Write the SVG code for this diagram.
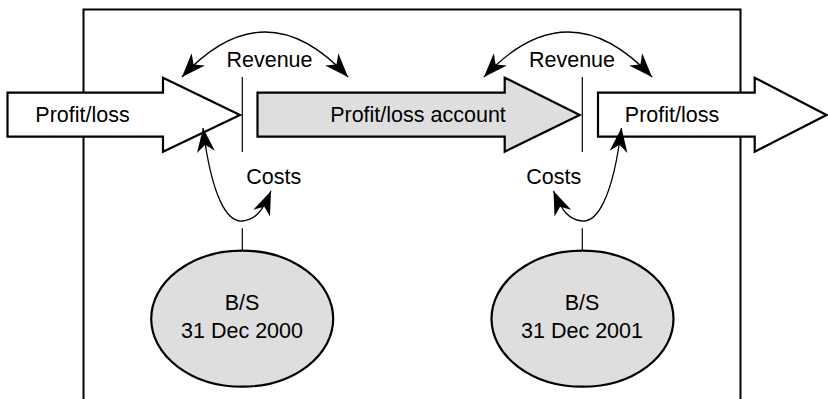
<svg xmlns="http://www.w3.org/2000/svg" width="828" height="399" viewBox="0 0 828 399">
<style>
  .t { font-family: "Liberation Sans", Arial, Helvetica, sans-serif; font-size: 21.5px; fill: #000; text-anchor: middle; }
  .arrow { stroke: #000; stroke-width: 2.2; stroke-linejoin: miter; }
  .thin { stroke: #000; stroke-width: 1.2; fill: none; }
  .curve { stroke: #000; stroke-width: 1.3; fill: none; marker-start: url(#ah); marker-end: url(#ah); }
  .ell { fill: #dedede; stroke: #000; stroke-width: 2.2; }
</style>
<defs>
  <marker id="ah" markerUnits="userSpaceOnUse" markerWidth="32" markerHeight="32" viewBox="-28 -12 32 24" refX="0" refY="0" orient="auto-start-reverse">
    <path d="M0,0 L-24,-9 L-17,0 L-24,9 Z" fill="#000"/>
  </marker>
</defs>
<rect width="828" height="399" fill="#fff"/>
<g id="frame">
  <path d="M83.5,400 V9.5 H740.5 V400" fill="none" stroke="#000" stroke-width="2"/>
</g>
<g id="arrow-left">
  <polygon class="arrow" fill="#fff" points="7.5,92.7 163,92.7 163,77.7 240,115 163,151.7 163,136.7 7.5,136.7"/>
  <text class="t" x="82.5" y="122">Profit/loss</text>
</g>
<g id="arrow-middle">
  <polygon class="arrow" fill="#dedede" points="257.5,92.7 504.7,92.7 504.7,77.7 579.7,115 504.7,151.7 504.7,136.7 257.5,136.7"/>
  <text class="t" x="418" y="122">Profit/loss account</text>
</g>
<g id="arrow-right">
  <polygon class="arrow" fill="#fff" points="598,92.7 754.7,92.7 754.7,77.7 826.5,115 754.7,151.7 754.7,136.7 598,136.7"/>
  <text class="t" x="672" y="122">Profit/loss</text>
</g>
<g id="bs-2000">
  <ellipse class="ell" cx="242.2" cy="318.7" rx="91" ry="68"/>
  <text class="t" x="242" y="310">B/S</text>
  <text class="t" x="242" y="337.5">31 Dec 2000</text>
</g>
<g id="bs-2001">
  <ellipse class="ell" cx="582.5" cy="318.7" rx="91" ry="68"/>
  <text class="t" x="582" y="310">B/S</text>
  <text class="t" x="582" y="337.5">31 Dec 2001</text>
</g>
<g id="labels">
  <text class="t" x="269.5" y="66.7">Revenue</text>
  <text class="t" x="572" y="66.7">Revenue</text>
  <text class="t" x="273.7" y="183.5">Costs</text>
  <text class="t" x="553.8" y="183.5">Costs</text>
</g>
<g id="connectors">
  <line class="thin" x1="242.3" y1="77" x2="242.3" y2="152"/>
  <line class="thin" x1="582.3" y1="77" x2="582.3" y2="152"/>
  <line class="thin" x1="242.3" y1="228.3" x2="242.3" y2="251"/>
  <line class="thin" x1="582.3" y1="228.3" x2="582.3" y2="251"/>
  <path class="curve" d="M182,77 Q265,-13 348,77"/>
  <path class="curve" d="M484,77 Q568,-13 652,77"/>
  <path class="curve" d="M203,128 C212,200 228,222 242,221 C256,220 263,210 271,191"/>
  <path class="curve" d="M621.5,128 C612.5,200 596.5,222 582.5,221 C568.5,220 561.5,210 553.5,191"/>
</g>
</svg>
